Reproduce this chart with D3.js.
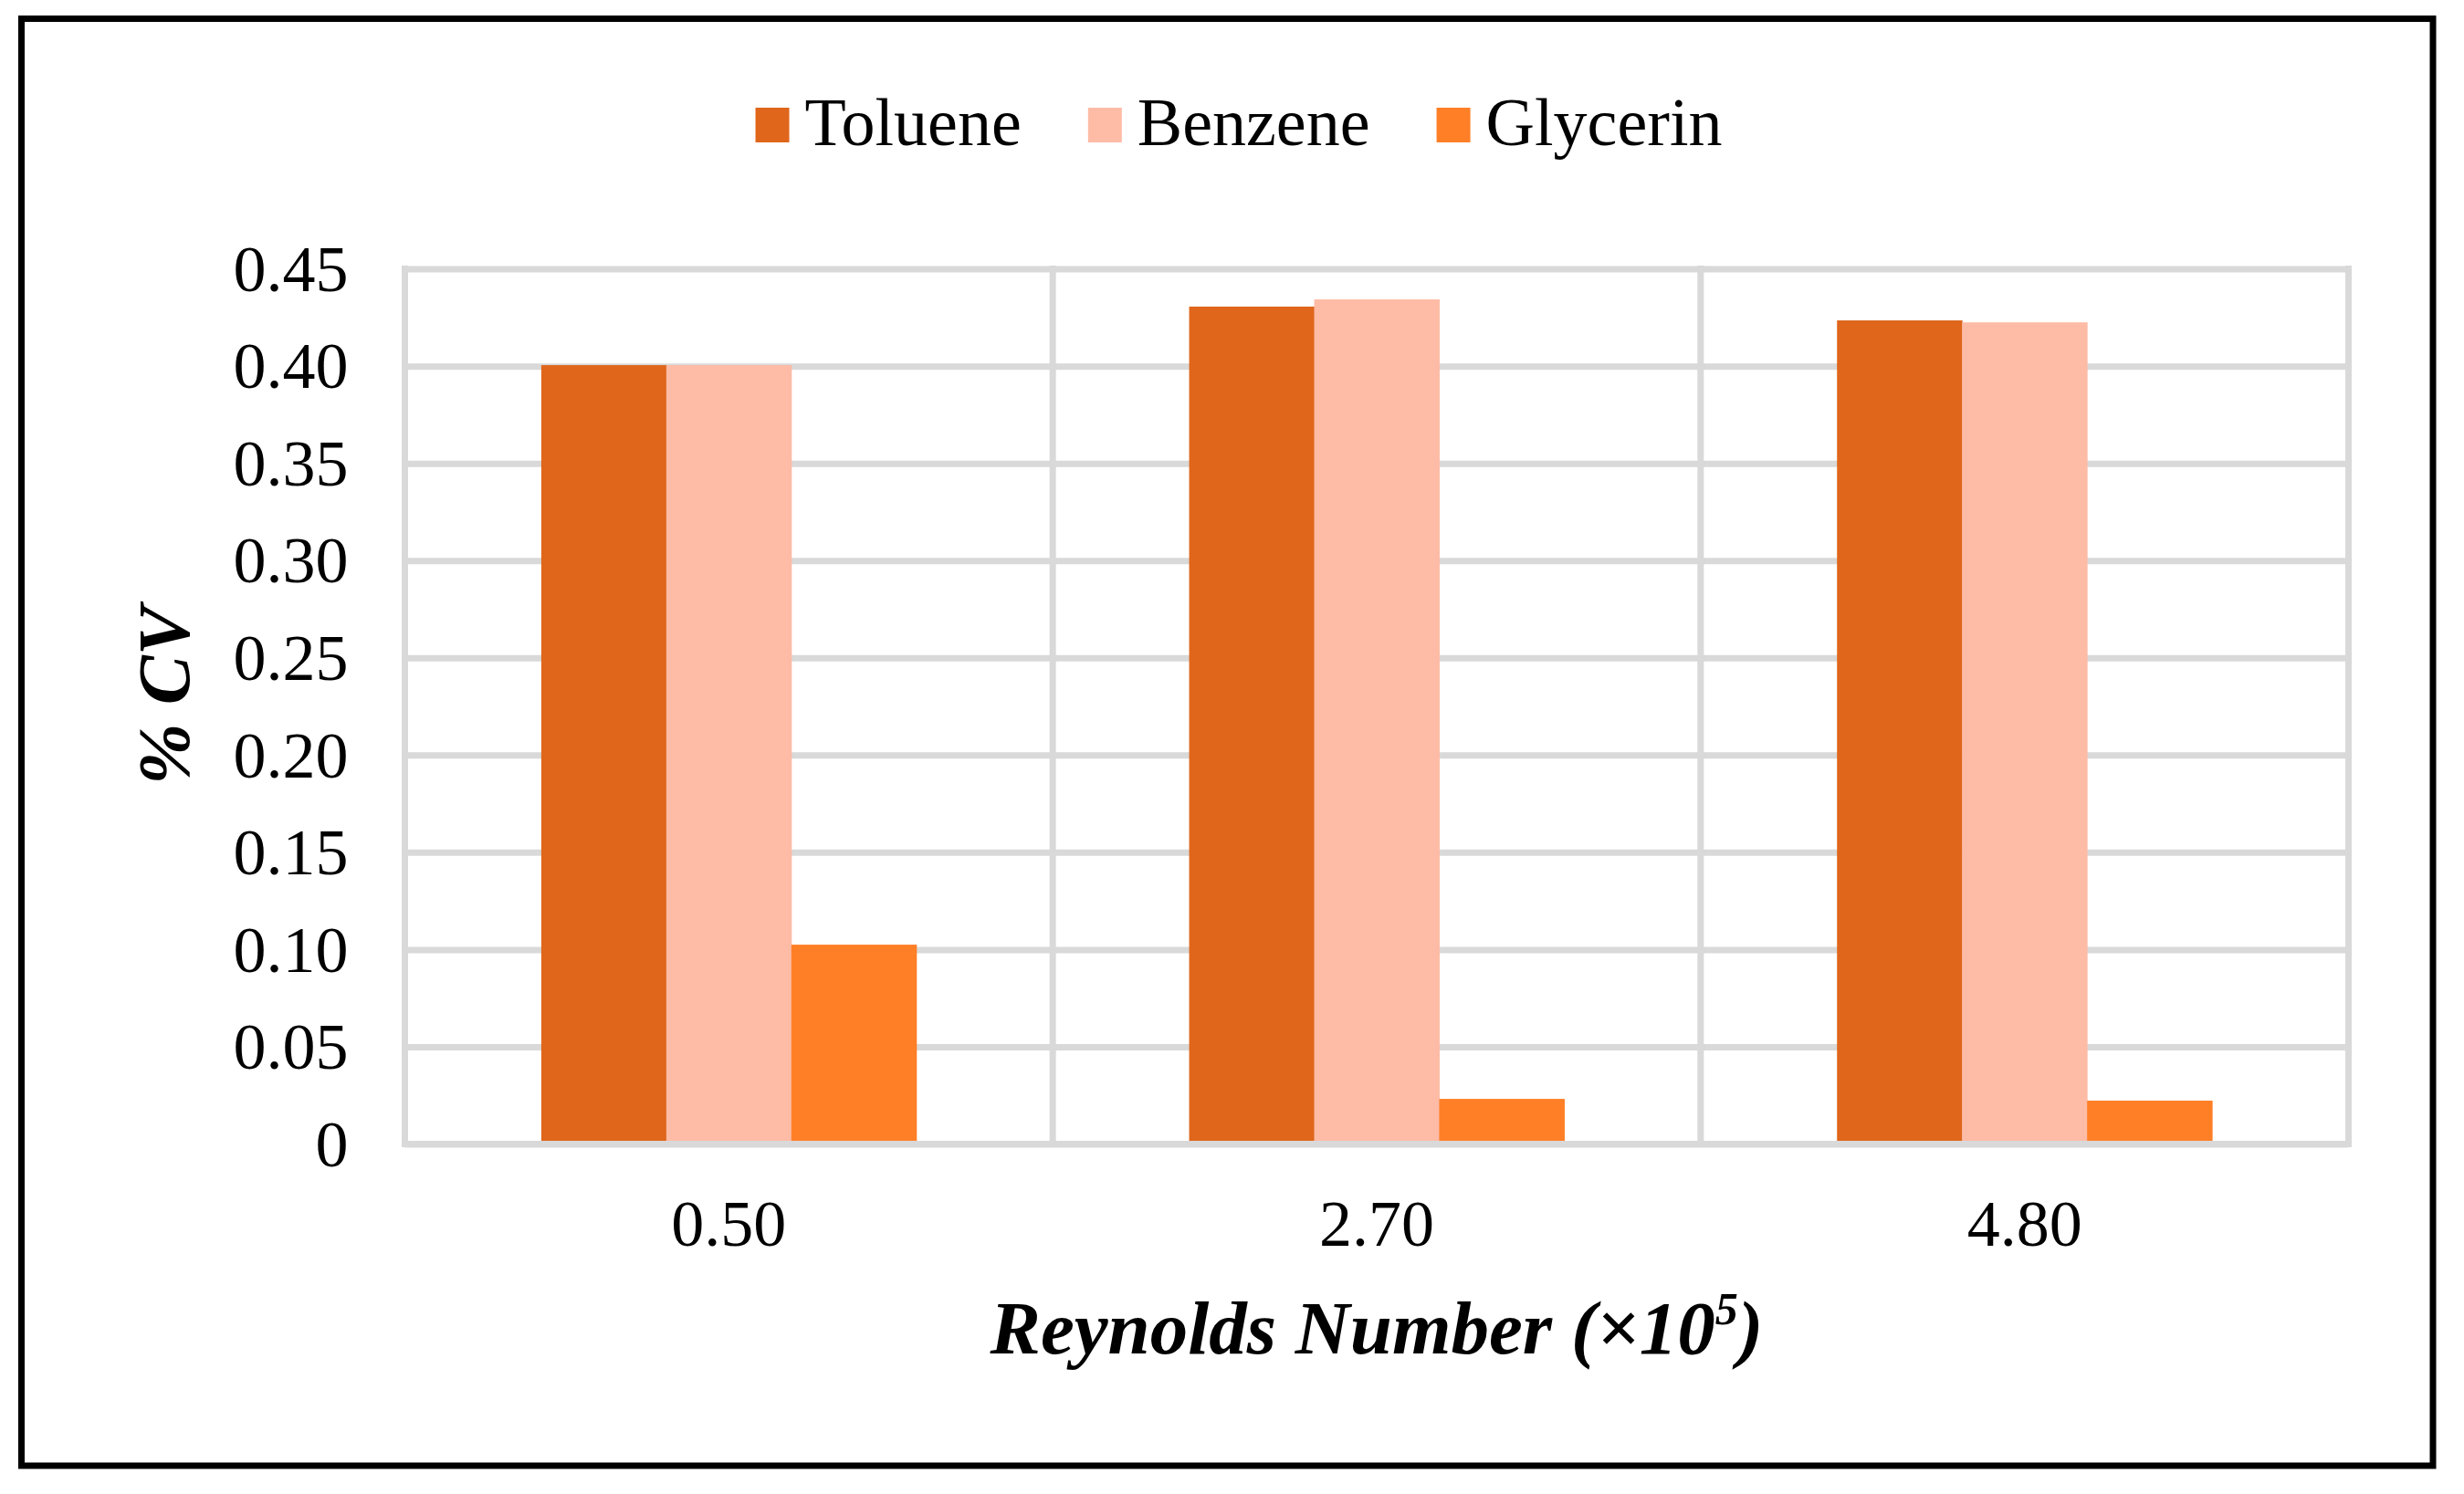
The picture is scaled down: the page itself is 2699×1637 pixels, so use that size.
<!DOCTYPE html>
<html>
<head>
<meta charset="utf-8">
<script src="https://cdn.jsdelivr.net/npm/d3@7"></script>
<style>
  body { margin: 0; background: #fff; }
  text { font-family: "Liberation Serif", "Times New Roman", serif; fill: #000; }
</style>
</head>
<body>
<div id="chart"></div>
<script>
// data
var categories = ["0.50", "2.70", "4.80"];
var seriesNames = ["Toluene", "Benzene", "Glycerin"];
var toluene = [0.4005, 0.4306, 0.4235];
var benzene = [0.4005, 0.4343, 0.4225];
var glycerin = [0.1025, 0.0232, 0.0223];
var tickValues = [0, 0.05, 0.10, 0.15, 0.20, 0.25, 0.30, 0.35, 0.40, 0.45];
var tickLabels = ["0", "0.05", "0.10", "0.15", "0.20", "0.25", "0.30", "0.35", "0.40", "0.45"];
var colors = ["#DF661B", "#FEBBA6", "#FF7F27"];

var seriesValues = [toluene, benzene, glycerin];

var W = 2699, H = 1637;
var plot = { left: 443.5, right: 2572.5, top: 294.6, bottom: 1253.5 };

var svg = d3.select("#chart")
  .append("svg")
  .attr("width", W)
  .attr("height", H);

// outer frame
svg.append("rect")
  .attr("x", 23.5).attr("y", 20.5)
  .attr("width", 2641.5).attr("height", 1585.5)
  .attr("fill", "#fff")
  .attr("stroke", "#000")
  .attr("stroke-width", 7);

// scales
var x0 = d3.scaleBand()
  .domain(categories)
  .range([plot.left, plot.right])
  .paddingInner(0.421)
  .paddingOuter(0.2105);

var x1 = d3.scaleBand()
  .domain(seriesNames)
  .range([0, x0.bandwidth()]);

var y = d3.scaleLinear()
  .domain([0, 0.45])
  .range([plot.bottom, plot.top]);

// horizontal gridlines + y labels
var yAxis = svg.append("g")
  .attr("transform", "translate(" + plot.left + ",0)")
  .call(d3.axisLeft(y)
    .tickValues(tickValues)
    .tickSize(-(plot.right - plot.left))
    .tickPadding(62)
    .tickFormat(function (d, i) { return tickLabels[i]; }));
yAxis.select(".domain").remove();
yAxis.selectAll(".tick line")
  .attr("stroke", "#D9D9D9")
  .attr("stroke-width", 7);
yAxis.selectAll(".tick text")
  .attr("font-size", 72)
  .attr("dy", "0.33em")
  .attr("font-family", "Liberation Serif");

// vertical gridlines at category boundaries
var step = x0.step();
var bounds = d3.range(categories.length + 1).map(function (i) { return plot.left + i * step; });
svg.append("g").selectAll("line")
  .data(bounds)
  .enter()
  .append("line")
  .attr("x1", function (d) { return d; })
  .attr("x2", function (d) { return d; })
  .attr("y1", y(0.45) - 3.5)
  .attr("y2", y(0))
  .attr("stroke", "#D9D9D9")
  .attr("stroke-width", 7);

// bars
var groups = svg.append("g").selectAll("g")
  .data(categories)
  .enter()
  .append("g")
  .attr("transform", function (d) { return "translate(" + x0(d) + ",0)"; });

groups.selectAll("rect")
  .data(function (d, ci) {
    return seriesNames.map(function (s, si) { return { key: s, value: seriesValues[si][ci], color: colors[si] }; });
  })
  .enter()
  .append("rect")
  .attr("x", function (d) { return x1(d.key); })
  .attr("width", x1.bandwidth() + 0.5)
  .attr("y", function (d) { return y(d.value); })
  .attr("height", function (d) { return y(0) - y(d.value); })
  .attr("fill", function (d) { return d.color; });

// bottom axis line
var xAxis = svg.append("g")
  .attr("transform", "translate(0," + y(0) + ")")
  .call(d3.axisBottom(x0).tickSize(0).tickPadding(0));
xAxis.select(".domain")
  .attr("stroke", "#D9D9D9")
  .attr("stroke-width", 7)
  .attr("d", "M" + (plot.left - 3.5) + ",0H" + (plot.right + 3.5));
xAxis.selectAll(".tick text")
  .attr("font-size", 72)
  .attr("font-family", "Liberation Serif")
  .attr("dy", 0)
  .attr("y", 111);

// axis titles
var xt = svg.append("text")
  .attr("x", (plot.left + plot.right) / 2)
  .attr("y", 1483)
  .attr("text-anchor", "middle")
  .attr("font-size", 83)
  .attr("font-style", "italic")
  .attr("font-weight", "bold");
xt.append("tspan").text("Reynolds Number (×10");
xt.append("tspan").attr("font-size", 50).attr("dy", -32).text("5");
xt.append("tspan").attr("dy", 32).text(")");

svg.append("text")
  .attr("transform", "translate(207,762) rotate(-90)")
  .attr("text-anchor", "middle")
  .attr("font-size", 81)
  .attr("font-style", "italic")
  .attr("font-weight", "bold")
  .text("% CV");

// legend
var legend = svg.append("g");
var lx = 0;
seriesNames.forEach(function (name, i) {
  var item = legend.append("g").attr("transform", "translate(" + lx + ",0)");
  item.append("rect")
    .attr("x", 0).attr("y", 118)
    .attr("width", 37).attr("height", 38)
    .attr("fill", colors[i]);
  var t = item.append("text")
    .attr("x", 54).attr("y", 159)
    .attr("font-size", 74)
    .text(name);
  lx += 54 + t.node().getComputedTextLength() + 73;
});
var legendW = lx - 73;
legend.attr("transform", "translate(" + (1357 - legendW / 2) + ",0)");
</script>
</body>
</html>
